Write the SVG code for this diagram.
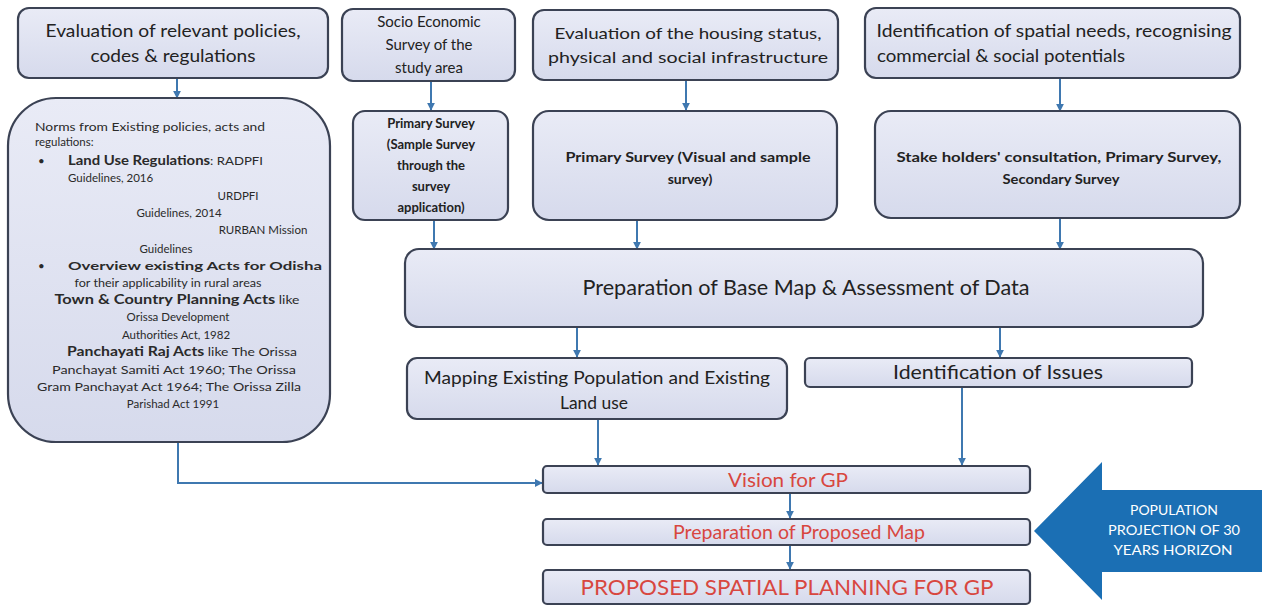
<svg xmlns="http://www.w3.org/2000/svg" width="1267" height="606" viewBox="0 0 1267 606">
<defs>
<linearGradient id="g" x1="0" y1="0" x2="0" y2="1">
<stop offset="0" stop-color="#e9ebf6"/>
<stop offset="1" stop-color="#d6daec"/>
</linearGradient>
<marker id="ah" viewBox="0 0 10 10" refX="9" refY="5" markerWidth="4" markerHeight="4" orient="auto">
<path d="M0,0 L10,5 L0,10 z" fill="#3f78b0"/>
</marker>
<style>
.box{fill:url(#g);stroke:#3b4254;stroke-width:2.2}
.t{font-family:Lato,"Open Sans","Liberation Sans",sans-serif;fill:#222222;text-anchor:middle}
.s{font-family:Lato,"Open Sans","Liberation Sans",sans-serif;fill:#2a2a2a;font-size:11.5px}
.b{font-weight:bold}
.r{fill:#d8473f}
.w{fill:#ffffff}
.c{fill:none;stroke:#3f78b0;stroke-width:2;marker-end:url(#ah)}
</style>
</defs>
<rect width="1267" height="606" fill="#ffffff"/>

<g id="connectors">
<path class="c" d="M177,78 V98"/>
<path class="c" d="M431,81 V110"/>
<path class="c" d="M686,80 V110"/>
<path class="c" d="M1060,78 V111"/>
<path class="c" d="M434,220 V249"/>
<path class="c" d="M637,220 V249"/>
<path class="c" d="M1060,218 V249"/>
<path class="c" d="M577,327 V357"/>
<path class="c" d="M1000,327 V357"/>
<path class="c" d="M598,419 V465"/>
<path class="c" d="M962,387 V465"/>
<path class="c" d="M178,442 V483 H542"/>
<path class="c" d="M790,493 V518"/>
<path class="c" d="M790,545 V569"/>
</g>

<g id="n-policies">
<rect class="box" x="18" y="8" width="310" height="70" rx="11"/>
<text class="t" x="173" y="37" font-size="18" textLength="255" lengthAdjust="spacingAndGlyphs">Evaluation of relevant policies,</text>
<text class="t" x="173" y="62" font-size="18" textLength="165" lengthAdjust="spacingAndGlyphs">codes &amp; regulations</text>
</g>

<g id="n-socio">
<rect class="box" x="342" y="9" width="173" height="72" rx="11"/>
<text class="t" x="429" y="27" font-size="15">Socio Economic</text>
<text class="t" x="429" y="50" font-size="15">Survey of the</text>
<text class="t" x="429" y="73" font-size="15">study area</text>
</g>

<g id="n-housing">
<rect class="box" x="533" y="10" width="305" height="70" rx="11"/>
<text class="t" x="688" y="39" font-size="16" textLength="267" lengthAdjust="spacingAndGlyphs">Evaluation of the housing status,</text>
<text class="t" x="688" y="63" font-size="16" textLength="280" lengthAdjust="spacingAndGlyphs">physical and social infrastructure</text>
</g>

<g id="n-spatial">
<rect class="box" x="865" y="8" width="375" height="70" rx="11"/>
<text class="t" x="1054" y="37" font-size="16.5" textLength="355" lengthAdjust="spacingAndGlyphs">Identification of spatial needs, recognising</text>
<text class="t" x="1001" y="62" font-size="16.5" textLength="248" lengthAdjust="spacingAndGlyphs">commercial &amp; social potentials</text>
</g>

<g id="n-norms">
<rect class="box" x="8" y="98" width="322" height="344" rx="48"/>
<text class="s" x="35" y="131" textLength="230" lengthAdjust="spacingAndGlyphs">Norms from Existing policies, acts and</text>
<text class="s" x="35" y="146">regulations:</text>
<text class="s" x="38" y="165">•</text>
<text class="s" x="68" y="165" textLength="195" lengthAdjust="spacingAndGlyphs"><tspan class="b" font-size="13">Land Use Regulations</tspan>: RADPFI</text>
<text class="s" x="68" y="182">Guidelines, 2016</text>
<text class="s" x="238" y="200" text-anchor="middle">URDPFI</text>
<text class="s" x="179" y="217" text-anchor="middle">Guidelines, 2014</text>
<text class="s" x="263" y="234" text-anchor="middle">RURBAN Mission</text>
<text class="s" x="166" y="253" text-anchor="middle">Guidelines</text>
<text class="s" x="38" y="270">•</text>
<text class="s b" x="68" y="270" font-size="13.5" textLength="254" lengthAdjust="spacingAndGlyphs">Overview existing Acts for Odisha</text>
<text class="s" x="168" y="287" text-anchor="middle" textLength="187" lengthAdjust="spacingAndGlyphs">for their applicability in rural areas</text>
<text class="s" x="177" y="304" text-anchor="middle" textLength="245" lengthAdjust="spacingAndGlyphs"><tspan class="b" font-size="13.5">Town &amp; Country Planning Acts</tspan> like</text>
<text class="s" x="178" y="321" text-anchor="middle">Orissa Development</text>
<text class="s" x="176" y="339" text-anchor="middle">Authorities Act, 1982</text>
<text class="s" x="182" y="356" text-anchor="middle" textLength="230" lengthAdjust="spacingAndGlyphs"><tspan class="b" font-size="13">Panchayati Raj Acts</tspan> like The Orissa</text>
<text class="s" x="174" y="374" text-anchor="middle" textLength="244" lengthAdjust="spacingAndGlyphs">Panchayat Samiti Act 1960; The Orissa</text>
<text class="s" x="169" y="391" text-anchor="middle" textLength="264" lengthAdjust="spacingAndGlyphs">Gram Panchayat Act 1964; The Orissa Zilla</text>
<text class="s" x="173" y="408" text-anchor="middle">Parishad Act 1991</text>
</g>

<g id="n-primary1">
<rect class="box" x="353" y="111" width="155" height="109" rx="12"/>
<text class="t b" x="431" y="128" font-size="13">Primary Survey</text>
<text class="t b" x="431" y="149" font-size="13">(Sample Survey</text>
<text class="t b" x="431" y="170" font-size="13">through the</text>
<text class="t b" x="431" y="191" font-size="13">survey</text>
<text class="t b" x="431" y="212" font-size="13">application)</text>
</g>

<g id="n-primary2">
<rect class="box" x="533" y="111" width="304" height="109" rx="16"/>
<text class="t b" x="688" y="162" font-size="14" textLength="245" lengthAdjust="spacingAndGlyphs">Primary Survey (Visual and sample</text>
<text class="t b" x="690" y="184" font-size="14">survey)</text>
</g>

<g id="n-stake">
<rect class="box" x="875" y="111" width="365" height="107" rx="16"/>
<text class="t b" x="1059" y="162" font-size="14" textLength="325" lengthAdjust="spacingAndGlyphs">Stake holders' consultation, Primary Survey,</text>
<text class="t b" x="1061" y="184" font-size="14" textLength="117" lengthAdjust="spacingAndGlyphs">Secondary Survey</text>
</g>

<g id="n-basemap">
<rect class="box" x="405" y="249" width="798" height="78" rx="14"/>
<text class="t" x="806" y="295" font-size="21" textLength="447" lengthAdjust="spacingAndGlyphs">Preparation of Base Map &amp; Assessment of Data</text>
</g>

<g id="n-mapping">
<rect class="box" x="407" y="358" width="380" height="61" rx="10"/>
<text class="t" x="597" y="384" font-size="17.5" textLength="346" lengthAdjust="spacingAndGlyphs">Mapping Existing  Population and Existing</text>
<text class="t" x="594" y="409" font-size="17.5" textLength="68" lengthAdjust="spacingAndGlyphs">Land use</text>
</g>

<g id="n-issues">
<rect class="box" x="805" y="358" width="387" height="29" rx="5"/>
<text class="t" x="998" y="379" font-size="19.5" textLength="210" lengthAdjust="spacingAndGlyphs">Identification of Issues</text>
</g>

<g id="n-vision">
<rect class="box" x="543" y="466" width="487" height="27" rx="4"/>
<text class="t r" x="788" y="487" font-size="18.5" textLength="120" lengthAdjust="spacingAndGlyphs">Vision for GP</text>
</g>

<g id="n-propmap">
<rect class="box" x="543" y="519" width="487" height="26" rx="4"/>
<text class="t r" x="799" y="539" font-size="19" textLength="252" lengthAdjust="spacingAndGlyphs">Preparation of Proposed Map</text>
</g>

<g id="n-final">
<rect class="box" x="543" y="570" width="487" height="34" rx="4"/>
<text class="t r" x="787" y="595" font-size="22" textLength="413" lengthAdjust="spacingAndGlyphs">PROPOSED SPATIAL PLANNING FOR GP</text>
</g>

<g id="n-population">
<path d="M1034,531 L1102,462 L1102,490 L1262,490 L1262,572 L1102,572 L1102,600 Z" fill="#1b6fb4"/>
<text class="t w" x="1174" y="515" font-size="13.5" textLength="88" lengthAdjust="spacingAndGlyphs">POPULATION</text>
<text class="t w" x="1174" y="535" font-size="13.5" textLength="132" lengthAdjust="spacingAndGlyphs">PROJECTION OF 30</text>
<text class="t w" x="1173" y="555" font-size="13.5" textLength="119" lengthAdjust="spacingAndGlyphs">YEARS HORIZON</text>
</g>
</svg>
